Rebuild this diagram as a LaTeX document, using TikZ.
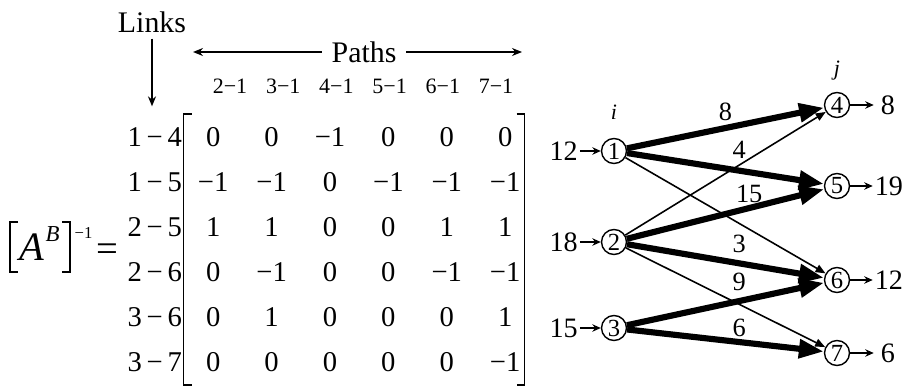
\documentclass[tikz,border=0pt]{standalone}
\usepackage{fontspec}
\setmainfont{Liberation Serif}
\usetikzlibrary{positioning}
\usetikzlibrary{matrix}
\usetikzlibrary{arrows.meta}
\tikzset{
cell/.style={minimum width=1.168cm, minimum height=0.9cm, inner sep=0pt, font=\fontsize{16.3}{18}\selectfont},
colhead/.style={inner sep=0pt, font=\fontsize{12.5}{14}\selectfont},
heading/.style={font=\fontsize{17}{20}\selectfont},
pointer/.style={-{Stealth[length=0.2cm,width=0.16cm]}, line width=0.8pt},
brak/.style={line width=0.8pt},
vertex/.style={circle, draw, line width=0.8pt, minimum size=0.5cm, inner sep=0pt, font=\fontsize{14}{14}\selectfont},
flow/.style={inner sep=1pt, font=\fontsize{16}{16}\selectfont},
feed/.style={-{Stealth[length=0.17cm,width=0.15cm]}, line width=0.8pt},
heavy/.style={-{Triangle[length=0.5cm,width=0.36cm]}, line width=3.5pt},
light/.style={-{Triangle[length=0.2cm,width=0.16cm]}, line width=0.9pt},
elabel/.style={inner sep=1pt, font=\fontsize{15}{15}\selectfont},
idx/.style={inner sep=1pt, font=\fontsize{12.5}{12.5}\selectfont\itshape}
}
\begin{document}
\begin{tikzpicture}[x=0.02cm, y=-0.02cm]
    \useasboundingbox (0,0) rectangle (908,385);

    % basis inverse with link rows
    \matrix (abinv) at (330,249.5) [matrix of nodes, nodes={cell}, row sep=0pt, column sep=0pt] {
        1\,−\,4 & 0  & 0  & −1 & 0  & 0  & 0  \\
        1\,−\,5 & −1 & −1 & 0  & −1 & −1 & −1 \\
        2\,−\,5 & 1  & 1  & 0  & 0  & 1  & 1  \\
        2\,−\,6 & 0  & −1 & 0  & 0  & −1 & −1 \\
        3\,−\,6 & 0  & 1  & 0  & 0  & 0  & 1  \\
        3\,−\,7 & 0  & 0  & 0  & 0  & 0  & −1 \\
    };
    \draw[brak] ([xshift=0.16cm]abinv-1-2.north west) -- (abinv-1-2.north west) -- (abinv-6-2.south west) -- ([xshift=0.16cm]abinv-6-2.south west);
    \draw[brak] ([xshift=-0.36cm]abinv-1-7.north east) -- ([xshift=-0.2cm]abinv-1-7.north east) -- ([xshift=-0.2cm]abinv-6-7.south east) -- ([xshift=-0.36cm]abinv-6-7.south east);

    \node[heading] (links) at (152,22) {Links};
    \draw[pointer, shorten >=0.15cm] (links) -- (links |- abinv-1-1.north);

    \node[heading, inner xsep=0.19cm] (paths) at (364,52) {Paths};
    \coordinate (pathsL) at (193,52);
    \coordinate (pathsR) at (522,52);
    \draw[pointer] (paths) -- (pathsL);
    \draw[pointer] (paths) -- (pathsR);
    \foreach \p [count=\k from 0] in {2,...,7}
        \node[colhead] (path\p) at ({230+53.2*\k},86) {\p−1};

    % left hand side
    \node[inner sep=0pt, font=\fontsize{23}{23}\selectfont\itshape] (amat) at (32,247) {A};
    \node[inner sep=0pt, font=\fontsize{13}{13}\selectfont\itshape] (bsup) at (52.5,234.5) {B};
    \node[inner sep=0pt, font=\fontsize{9.5}{10}\selectfont] (inv) at (83.5,233) {−1};
    \node[inner sep=0pt, font=\fontsize{22}{22}\selectfont] (eq) at (107.5,253) {=};
    \draw[brak] (18,222) -- (10,222) -- (10,272) -- (18,272);
    \draw[brak] (62,222) -- (70,222) -- (70,272) -- (62,272);

    % transportation network
    \node[vertex] (n1) at (614,151) {1};
    \node[vertex] (n2) at (614,242) {2};
    \node[vertex] (n3) at (614,328) {3};
    \node[vertex] (n4) at (837,105) {4};
    \node[vertex] (n5) at (837,186) {5};
    \node[vertex] (n6) at (837,280) {6};
    \node[vertex] (n7) at (837,353) {7};
    \node[idx] (ilab) [above=0.33cm of n1] {i};
    \node[idx] (jlab) [above=0.2cm of n4] {j};

    \node[flow] (in1) [left=0.42cm of n1] {12};
    \node[flow] (in2) [left=0.42cm of n2] {18};
    \node[flow] (in3) [left=0.42cm of n3] {15};
    \node[flow] (out4) [right=0.57cm of n4] {8};
    \node[flow] (out5) [right=0.45cm of n5] {19};
    \node[flow] (out6) [right=0.45cm of n6] {12};
    \node[flow] (out7) [right=0.57cm of n7] {6};
    \draw[feed] (in1) -- (n1);
    \draw[feed] (in2) -- (n2);
    \draw[feed] (in3) -- (n3);
    \draw[feed, shorten >=0.1cm] (n4) -- (out4);
    \draw[feed] (n5) -- (out5);
    \draw[feed] (n6) -- (out6);
    \draw[feed, shorten >=0.1cm] (n7) -- (out7);

    \draw[light] (n1) -- (n6);
    \draw[light] (n2) -- (n4);
    \draw[light] (n2) -- (n7);
    \draw[heavy] (n1) -- node[elabel, pos=0.5, above=0.05cm] {8} (n4);
    \draw[heavy] (n1) -- node[elabel, pos=0.57, above=0.15cm] {4} (n5);
    \draw[heavy] (n2) -- node[elabel, pos=0.62, above=0cm] {15} (n5);
    \draw[heavy] (n2) -- node[elabel, pos=0.57, above=0.12cm] {3} (n6);
    \draw[heavy] (n3) -- node[elabel, pos=0.57, above=0.11cm] {9} (n6);
    \draw[heavy] (n3) -- node[elabel, pos=0.57, above=0cm] {6} (n7);
\end{tikzpicture}
\end{document}
